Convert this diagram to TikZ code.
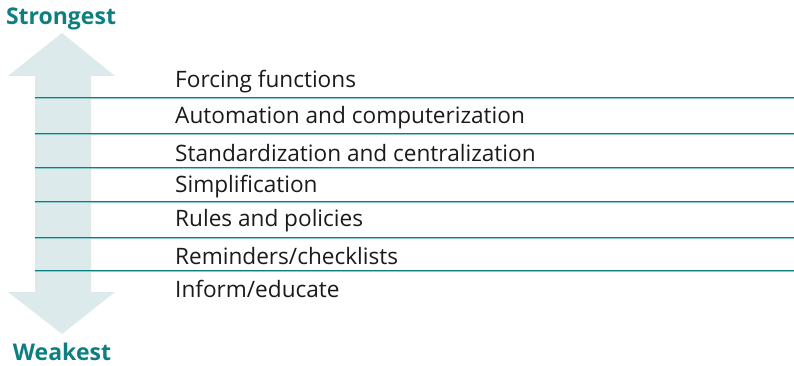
\documentclass[tikz,border=0pt]{standalone}
\usepackage{fontspec}
\setmainfont{Open Sans}
\definecolor{teal1}{HTML}{0E7F80}
\definecolor{teallight}{HTML}{8CC9CC}
\definecolor{arrowfill}{HTML}{DCEAEC}
\definecolor{textgray}{HTML}{1A1A1A}
\begin{document}
\begin{tikzpicture}[x=1pt,y=-1pt,
  endlabel/.style={text=teal1,font=\bfseries\fontsize{23}{26}\selectfont,inner sep=0pt},
  level/.style={text=textgray,font=\fontsize{22.6}{26}\selectfont,anchor=west,inner sep=0pt},
  rule/.style={draw=teal1,line width=1.4pt},
  ruleshade/.style={draw=teallight,line width=1.2pt}]
\useasboundingbox (0,0) rectangle (794,366);
% double-headed scale arrow
\fill[arrowfill] (62,33) -- (115,76) -- (91,76) -- (91,292) -- (115,292) -- (62,334)
  -- (8,292) -- (35,292) -- (35,76) -- (8,76) -- cycle;
% end labels
\node[endlabel] (strong) at (61,19) {Strongest};
\node[endlabel] (weak) at (62,352) {Weakest};
% separator rules
\foreach \yy in {97.5,133.3,167.7,201.7,237.3,270.7}{
  \draw[ruleshade] (35,\yy+1.1) -- (794,\yy+1.1);
  \draw[rule] (35,\yy) -- (794,\yy);
}
% levels
\node[level] (l1) at (175,82) {Forcing functions};
\node[level] (l2) at (175,118) {Automation and computerization};
\node[level] (l3) at (175,153) {Standardization and centralization};
\node[level] (l4) at (175,187) {Simplification};
\node[level] (l5) at (175,221) {Rules and policies};
\node[level] (l6) at (175,256) {Reminders/checklists};
\node[level] (l7) at (175,289) {Inform/educate};
\end{tikzpicture}
\end{document}
